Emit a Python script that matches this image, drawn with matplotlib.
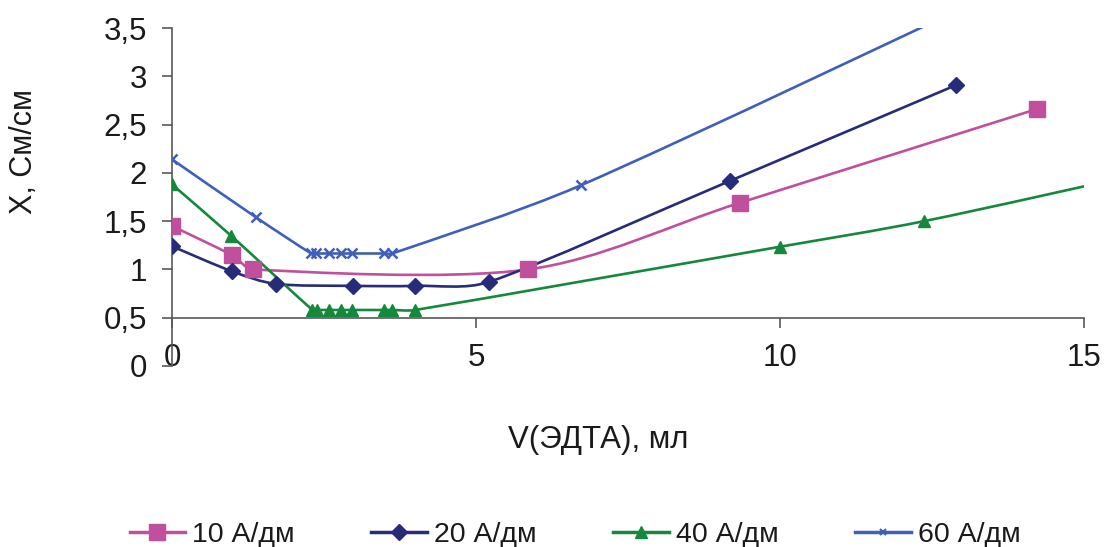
import matplotlib
matplotlib.use('Agg')
import matplotlib.pyplot as plt
from matplotlib.path import Path
from matplotlib.patches import PathPatch
from matplotlib.lines import Line2D
from matplotlib import font_manager
import numpy as np

# data
x10 = [0.0, 0.98, 1.34, 5.86, 9.34, 14.22]
y10 = [1.45, 1.15, 1.00, 1.00, 1.69, 2.66]

x20 = [0.0, 0.99, 1.71, 2.98, 4.0, 5.21, 9.17, 12.9]
y20 = [1.24, 0.98, 0.85, 0.83, 0.83, 0.87, 1.915, 2.91]

x40 = [0.0, 0.97, 2.31, 2.38, 2.59, 2.78, 2.96, 3.48, 3.62, 4.0, 10.0, 12.37, 16.0]
y40 = [1.88, 1.35, 0.58, 0.58, 0.58, 0.58, 0.58, 0.58, 0.58, 0.58, 1.235, 1.50, 2.0]

x60 = [0.0, 1.38, 2.29, 2.37, 2.59, 2.78, 2.96, 3.48, 3.62, 6.72, 14.0]
y60 = [2.14, 1.54, 1.165, 1.165, 1.165, 1.165, 1.165, 1.165, 1.165, 1.87, 4.0]

labels = ['10 А/дм', '20 А/дм', '40 А/дм', '60 А/дм']
colors = ['#C0509E', '#262C7A', '#15893B', '#3F5FBA']
markers = ['s', 'D', '^', 'x']
msizes = [11, 8, 8, 7]


def pick_font(names):
    for n in names:
        try:
            font_manager.findfont(n, fallback_to_default=False)
            return n
        except Exception:
            pass
    return 'DejaVu Sans'


main_font = pick_font(['Liberation Sans', 'Arial'])
plt.rcParams['font.family'] = [main_font, 'DejaVu Sans']

# rough pixel size of one data unit, used to shape the smoothing
SX, SY = 60.7, 96.6


def smooth_path(xs, ys):
    # Excel-like smoothed line: cubic bezier through all points,
    # handles limited so short segments don't hook
    p = np.column_stack([xs, ys]) * [SX, SY]
    n = len(p)
    verts = [p[0]]
    codes = [Path.MOVETO]
    for i in range(n - 1):
        p0 = p[i - 1] if i > 0 else p[i]
        p1 = p[i]
        p2 = p[i + 1]
        p3 = p[i + 2] if i + 2 < n else p[i + 1]
        seg = np.hypot(*(p2 - p1))
        t1 = (p2 - p0) / 6.0
        t2 = (p3 - p1) / 6.0
        l1, l2 = np.hypot(*t1), np.hypot(*t2)
        if l1 > seg / 3:
            t1 = t1 * (seg / 3) / l1
        if l2 > seg / 3:
            t2 = t2 * (seg / 3) / l2
        verts += [p1 + t1, p2 - t2, p2]
        codes += [Path.CURVE4] * 3
    verts = np.array(verts) / [SX, SY]
    return Path(verts, codes)


fig = plt.figure(figsize=(11.04, 5.47), dpi=100)
ax = fig.add_axes([0.1558, 0.3309, 0.9819 - 0.1558, 0.9488 - 0.3309])

series = [(x10, y10), (x20, y20), (x40, y40), (x60, y60)]
for (xs, ys), c, m, ms in zip(series, colors, markers, msizes):
    ax.add_patch(PathPatch(smooth_path(xs, ys), facecolor='none', edgecolor=c,
                           lw=1.9, zorder=2))
    if m == 'x':
        ax.plot(xs, ys, ls='none', marker=m, ms=ms, mew=1.8, color=c, zorder=3)
    else:
        ax.plot(xs, ys, ls='none', marker=m, ms=ms, mec=c, mfc=c, color=c, zorder=3)

ax.set_xlim(0, 15)
ax.set_ylim(0, 3.5)
ax.set_xticks([0, 5, 10, 15])
ax.set_yticks(np.arange(0, 3.51, 0.5))
ax.set_yticklabels(['0', '0,5', '1', '1,5', '2', '2,5', '3', '3,5'])
ax.set_xticklabels(['0', '5', '10', '15'])

ax.spines['top'].set_visible(False)
ax.spines['right'].set_visible(False)
ax.spines['bottom'].set_position(('data', 0.5))
for s in ['left', 'bottom']:
    ax.spines[s].set_color('#595959')
    ax.spines[s].set_linewidth(1.2)
ax.tick_params(axis='both', direction='out', length=7, width=1.2, color='#595959',
               labelsize=22.5, labelcolor='#1a1a1a')
ax.tick_params(axis='x', pad=11)
ax.tick_params(axis='y', pad=11)

fig.text(24 / 1104, 1 - 152 / 547, 'X, См/см', rotation=90, ha='center', va='center',
         fontsize=22, color='#1a1a1a')
fig.text(598 / 1104, 1 - 440 / 547, 'V(ЭДТА), мл', ha='center', va='center',
         fontsize=22.5, color='#1a1a1a')

handles = []
for c, m, ms in zip(colors, markers, msizes):
    if m == 'x':
        h = Line2D([], [], color=c, lw=2.5, marker=m, ms=ms * 0.7, mew=1.5)
    else:
        h = Line2D([], [], color=c, lw=2.5, marker=m, ms=ms)
    handles.append(h)
fig.legend(handles, labels, loc='center', bbox_to_anchor=(575 / 1104, 1 - 535 / 547),
           ncol=4, frameon=False, handlelength=1.94, handletextpad=0.25,
           columnspacing=2.7, fontsize=20.5, labelcolor='#1a1a1a')

fig.savefig('out.png', dpi=100)
